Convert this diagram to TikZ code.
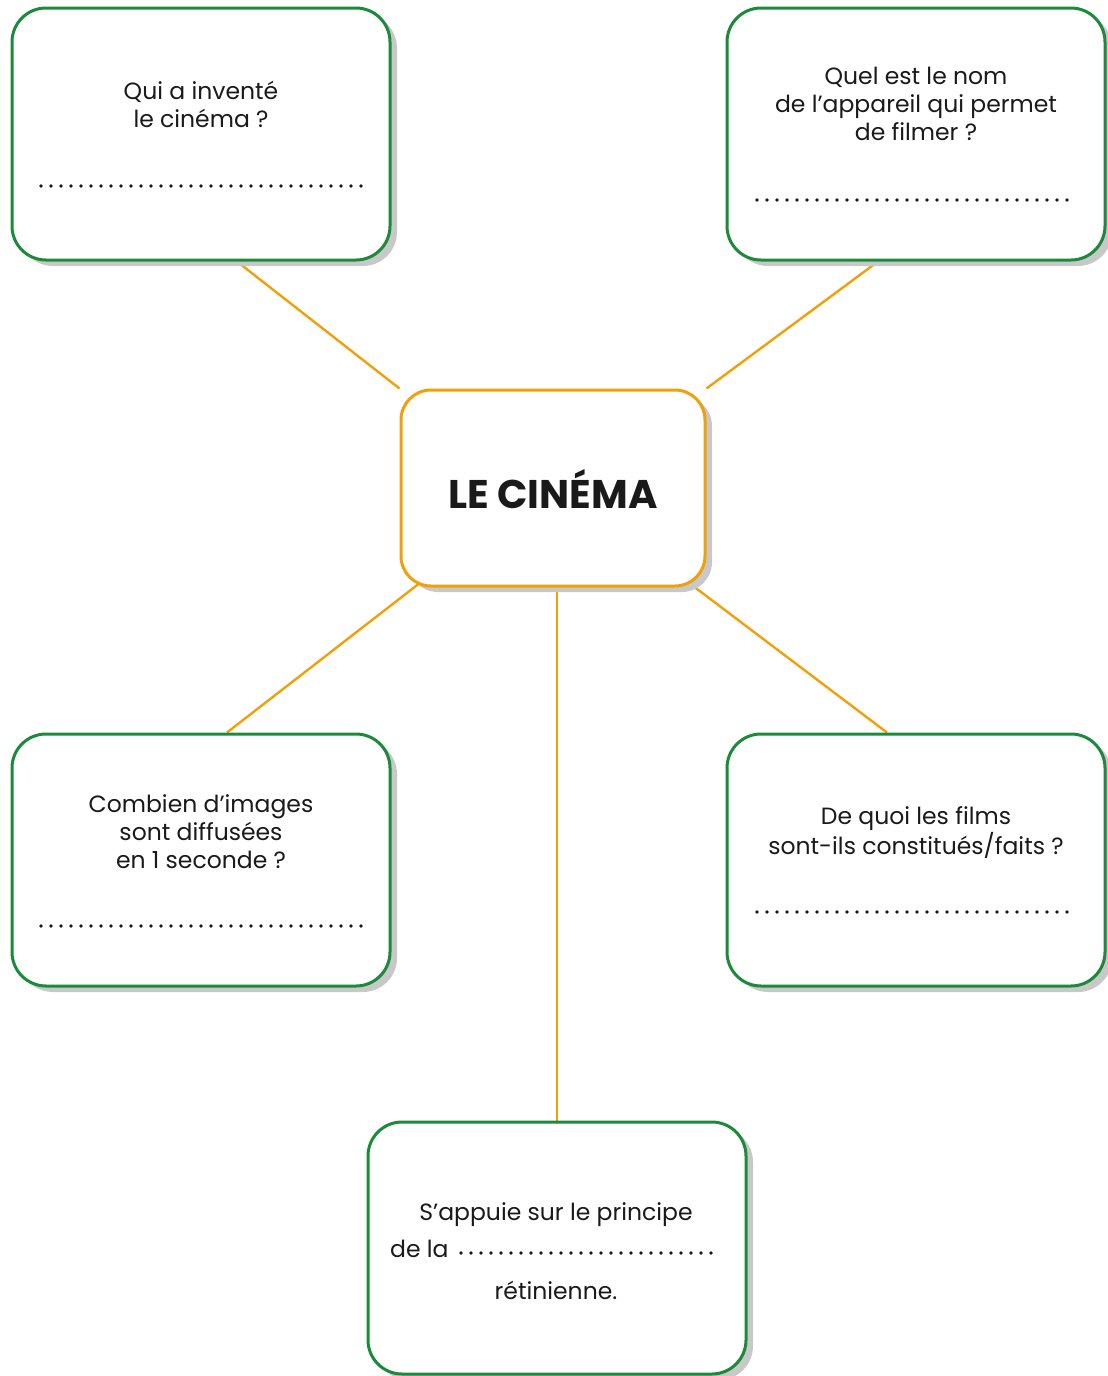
\documentclass[tikz,border=0pt]{standalone}
\usepackage{fontspec}
\setmainfont{Poppins}
\usetikzlibrary{positioning,calc,shadows,backgrounds}
\definecolor{Leaf}{HTML}{1B8A3A}
\definecolor{Amber}{HTML}{F2A00A}
\definecolor{Shade}{HTML}{C8C8C8}
\definecolor{Ink}{HTML}{1A1A1A}
\newcommand{\FillDots}[3]{%
  \draw[dotline] (#1,#3) -- (#2,#3);%
}

\begin{document}
\begin{tikzpicture}[x=1pt,y=-1pt,
  card/.style={draw=Leaf,line width=3pt,fill=white,rounded corners=34pt,
    minimum width=378pt,minimum height=252pt,
    drop shadow={shadow xshift=7pt,shadow yshift=-6pt,fill=Shade,opacity=1}},
  hub/.style={card,draw=Amber,minimum width=304pt,minimum height=196pt,rounded corners=30pt},
  link/.style={draw=Amber,line width=2.4pt},
  dotline/.style={draw=Ink,line width=3.8pt,line cap=round,dash pattern=on 0pt off 10pt},
  ask/.style={font=\fontsize{23.5}{28}\selectfont,text=Ink,align=center,anchor=base,inner sep=0pt}]
\useasboundingbox (0,0) rectangle (1108,1376);

% boxes
\node[hub] (cinema) at (553,488) {};
\node[card] (q1) at (201,134) {};
\node[card] (q2) at (916,134) {};
\node[card] (q3) at (201,860) {};
\node[card] (q4) at (916,860) {};
\node[card] (q5) at (557,1248) {};

% links, behind the boxes
\begin{pgfonlayer}{background}
\draw[link] (cinema.north west) -- ($(q1.south)+(36,0)$);
\draw[link] (cinema.north east) -- ($(q2.south)+(-38,0)$);
\draw[link] ($(cinema.south west)+(30,-12)$) -- ($(q3.north)+(26,0)$);
\draw[link] ($(cinema.south east)+(-22,-8)$) -- ($(q4.north)+(-29,0)$);
\draw[link] (q5.north) -- (q5.north |- cinema.south);
\end{pgfonlayer}

% texts (base = last line)
\node[font=\fontsize{40}{44}\selectfont\bfseries,text=Ink] (title) at (553,489) {LE CINÉMA};
\node[ask] (t1) at (201,127) {Qui a inventé\\le cinéma ?};
\FillDots{41}{362}{186}
\node[ask] (t2) at (916,140) {Quel est le nom\\de l’appareil qui permet\\de filmer ?};
\FillDots{757}{1077}{200}
\node[ask] (t3) at (201,868) {Combien d’images\\sont diffusées\\en 1 seconde ?};
\FillDots{41}{362}{926}
\node[ask] (t4) at (916,854) {De quoi les films\\sont-ils constitués/faits ?};
\FillDots{757}{1077}{912}
\node[ask] (t5) at (556,1220) {S’appuie sur le principe};
\node[ask,anchor=base west] (t6) at (390,1257) {de la};
\FillDots{461}{718}{1253}
\node[ask] (t7) at (556,1299) {rétinienne.};
\end{tikzpicture}
\end{document}
